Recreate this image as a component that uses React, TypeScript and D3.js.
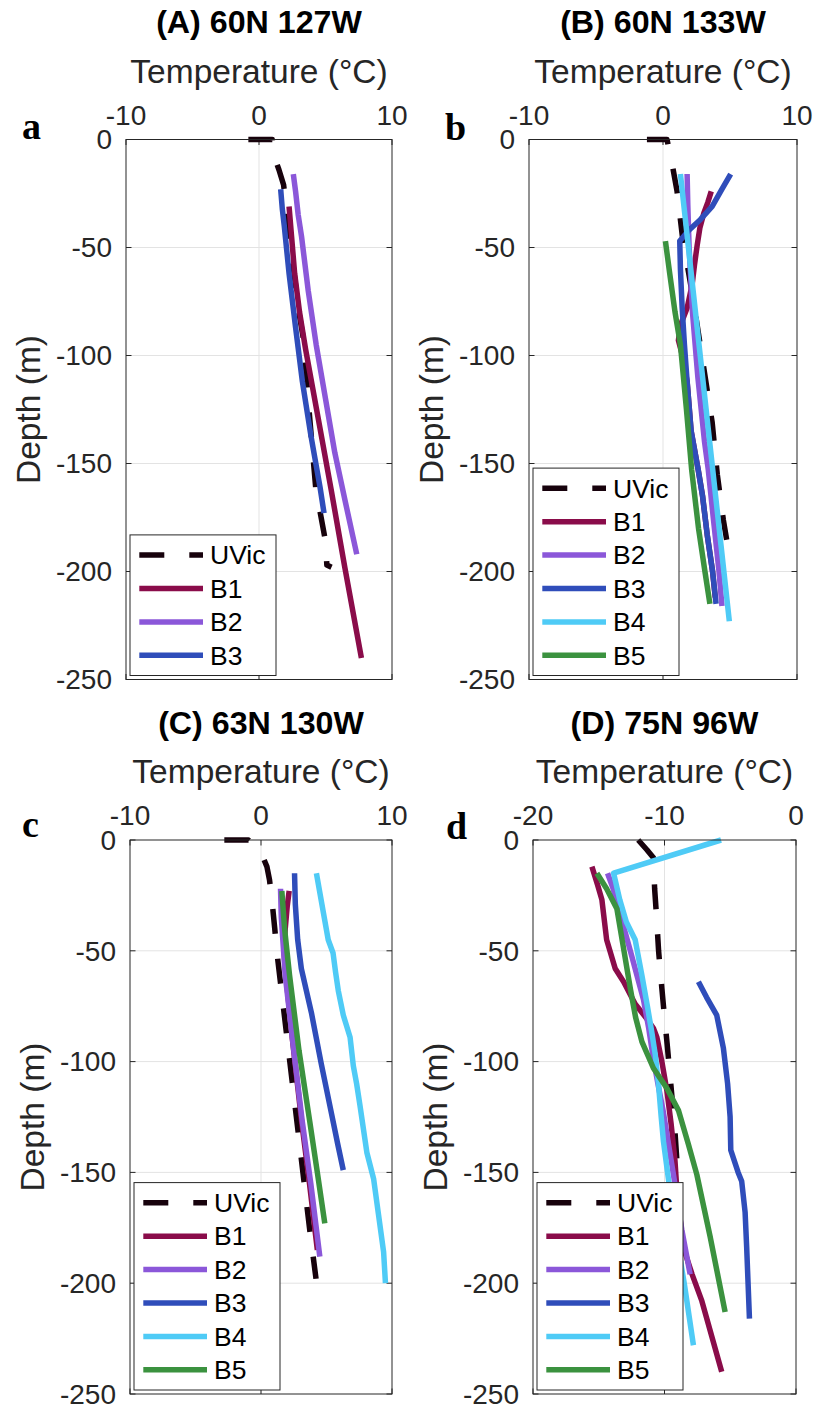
import React from 'react';
import * as d3 from 'd3';

type Pt = [number, number]; // [temperature °C, depth m]

const SERIES_NAMES = ['UVic', 'B1', 'B2', 'B3', 'B4', 'B5'];
const SERIES_COLORS = ['#17020c', '#8a0c4a', '#8b57d9', '#2f4dba', '#4fcbf6', '#3b923f'];

const DEPTH_TICKS = [0, -50, -100, -150, -200, -250];
const TEMP_TICKS_ABC = [-10, 0, 10];
const TEMP_TICKS_D = [-20, -10, 0];

// ---- Panel A: 60N 127W ----
const A_UVIC: Pt[] = [[-0.8, 0], [1.0, 0], [1.15, -8], [1.5, -14], [1.85, -21], [2.2, -40], [2.6, -60], [3.0, -80], [3.33, -92], [3.8, -128], [4.26, -161], [4.64, -174], [5.0, -186], [5.1, -197], [5.45, -198]];
const A_B1: Pt[] = [[2.26, -31], [2.45, -45], [2.68, -62], [3.05, -80], [3.5, -97], [4.45, -129], [5.45, -163], [6.45, -198], [7.7, -240]];
const A_B2: Pt[] = [[2.58, -16], [2.75, -24], [2.95, -35], [3.2, -45], [3.7, -70], [4.3, -95], [5.0, -120], [5.7, -145], [6.5, -168], [7.35, -192]];
const A_B3: Pt[] = [[1.63, -23], [1.75, -32], [1.9, -40], [2.26, -62], [2.75, -87], [3.26, -112], [3.9, -137], [4.59, -161], [4.89, -173]];

// ---- Panel B: 60N 133W ----
const B_UVIC: Pt[] = [[-1.2, 0], [0.3, 0], [0.7, -12], [1.05, -24], [1.45, -45], [2.2, -72], [2.9, -100], [3.67, -131], [4.05, -155], [4.5, -176], [4.85, -189]];
const B_B1: Pt[] = [[3.6, -24], [3.35, -29], [3.05, -34], [2.75, -41], [2.55, -49], [2.35, -58], [2.18, -67], [1.8, -78], [1.3, -86], [1.15, -93], [1.45, -100], [1.8, -112], [2.1, -135], [2.63, -153], [2.95, -165], [3.3, -183], [3.7, -200], [3.9, -212]];
const B_B2: Pt[] = [[1.8, -16], [1.85, -30], [1.95, -50], [2.2, -80], [2.6, -110], [3.1, -140], [3.38, -153], [3.75, -175], [4.18, -200], [4.4, -216]];
const B_B3: Pt[] = [[5.05, -16], [4.4, -23], [3.67, -31], [2.8, -37], [1.93, -42], [1.25, -47], [1.3, -60], [1.43, -78], [1.6, -95], [1.8, -112], [2.1, -135], [2.63, -153], [2.95, -165], [3.3, -183], [3.7, -200], [3.96, -215]];
const B_B4: Pt[] = [[1.3, -16], [2.6, -90], [4.95, -223]];
const B_B5: Pt[] = [[0.18, -47], [0.5, -62], [0.9, -80], [1.3, -95], [1.75, -125], [2.14, -153], [2.65, -180], [3.13, -200], [3.5, -215]];

// ---- Panel C: 63N 130W ----
const C_UVIC: Pt[] = [[-2.8, 0], [-0.95, 0], [-0.35, -3], [0.1, -7], [0.45, -12], [0.65, -18], [0.85, -28], [1.05, -40], [1.2, -50], [1.7, -75], [2.2, -100], [2.7, -125], [3.2, -150], [3.7, -175], [4.2, -198]];
const C_B1: Pt[] = [[2.15, -23], [2.0, -30], [1.85, -40], [1.75, -50], [1.9, -61], [2.4, -90], [3.1, -127], [3.7, -155], [4.3, -185]];
const C_B2: Pt[] = [[1.49, -22], [1.55, -35], [1.85, -61], [2.4, -90], [3.15, -127], [3.8, -155], [4.49, -188]];
const C_B3: Pt[] = [[2.56, -15], [2.62, -29], [2.8, -45], [3.08, -58], [3.85, -78], [4.6, -101], [5.4, -124], [5.85, -137], [6.28, -149]];
const C_B4: Pt[] = [[4.23, -15], [4.5, -24], [4.74, -32], [5.13, -45], [5.5, -51], [5.7, -60], [5.9, -68], [6.28, -79], [6.8, -89], [7.05, -102], [7.3, -110], [7.56, -120], [8.08, -141], [8.6, -153], [8.97, -169], [9.36, -186], [9.5, -200]];
const C_B5: Pt[] = [[1.59, -23], [1.8, -40], [2.18, -61], [2.9, -95], [3.72, -127], [4.3, -150], [4.87, -173]];

// ---- Panel D: 75N 96W ----
const D_UVIC: Pt[] = [[-12, 0], [-11.34, -4.4], [-10.84, -8], [-10.8, -15], [-10.75, -22], [-10.6, -35], [-10.45, -50], [-10.2, -67], [-10.0, -80], [-9.8, -92], [-9.6, -105], [-9.4, -118], [-9.2, -132], [-9.0, -150], [-8.95, -158]];
const D_B1: Pt[] = [[-15.52, -12], [-15.1, -20], [-14.76, -27], [-14.4, -45], [-13.75, -58], [-13.11, -64], [-12.23, -74], [-11.3, -81], [-10.84, -85], [-10.58, -89], [-10.2, -100], [-9.82, -113], [-9.5, -128], [-9.2, -145], [-9.06, -158], [-8.8, -172], [-8.56, -184], [-7.9, -196], [-7.16, -208], [-5.65, -240]];
const D_B2: Pt[] = [[-14.33, -15], [-13.9, -22], [-13.49, -31], [-12.6, -50], [-11.6, -72], [-11.2, -85], [-10.84, -99], [-10.5, -110], [-10.08, -123], [-9.7, -137], [-9.32, -151], [-8.68, -176], [-8.05, -196]];
const D_B3: Pt[] = [[-7.42, -64], [-6.8, -71], [-6.03, -79], [-5.52, -94], [-5.2, -110], [-5.01, -125], [-4.96, -140], [-4.4, -150], [-4.13, -154], [-3.87, -168], [-3.75, -184], [-3.54, -216]];
const D_B4: Pt[] = [[-5.7, 0], [-13.87, -15], [-13.4, -27], [-12.9, -37], [-12.23, -45], [-11.72, -61], [-11.3, -75], [-10.96, -87], [-10.7, -97], [-10.46, -110], [-10.25, -125], [-10.08, -136], [-9.7, -153], [-9.2, -175], [-8.5, -200], [-7.8, -228]];
const D_B5: Pt[] = [[-15.14, -15], [-14.4, -22], [-13.62, -31], [-13.11, -49], [-12.6, -67], [-12.2, -80], [-11.72, -91], [-10.84, -103], [-9.82, -112], [-8.94, -122], [-8.2, -137], [-7.54, -151], [-6.53, -179], [-5.39, -213]];

const PANELS = [
  { letter: 'a', title: '(A) 60N 127W', xDomain: [-10, 10], xTicks: TEMP_TICKS_ABC, series: [A_UVIC, A_B1, A_B2, A_B3], box: { l: 126, r: 392, t: 139.5, b: 679.5 }, letterPos: [22, 139] },
  { letter: 'b', title: '(B) 60N 133W', xDomain: [-10, 10], xTicks: TEMP_TICKS_ABC, series: [B_UVIC, B_B1, B_B2, B_B3, B_B4, B_B5], box: { l: 529, r: 797, t: 139.5, b: 679.5 }, letterPos: [445, 140] },
  { letter: 'c', title: '(C) 63N 130W', xDomain: [-10, 10], xTicks: TEMP_TICKS_ABC, series: [C_UVIC, C_B1, C_B2, C_B3, C_B4, C_B5], box: { l: 130, r: 392, t: 840, b: 1394 }, letterPos: [22, 837] },
  { letter: 'd', title: '(D) 75N 96W', xDomain: [-20, 0], xTicks: TEMP_TICKS_D, series: [D_UVIC, D_B1, D_B2, D_B3, D_B4, D_B5], box: { l: 533, r: 796, t: 840, b: 1394 }, letterPos: [446, 839] },
];

const FONT = '"Liberation Sans", Arial, Helvetica, sans-serif';
const AXIS_COLOR = '#262626';
const GRID_COLOR = '#e3e3e3';
const LINE_W = 5.5;
const DASH = '25 25';

function Panel({ p }: { p: any }) {
  const { l, r, t, b } = p.box;
  const x = d3.scaleLinear().domain(p.xDomain).range([l, r]);
  const y = d3.scaleLinear().domain([0, -250]).range([t, b]);
  const line = d3.line<Pt>().x((d) => x(d[0])).y((d) => y(d[1]));
  const tl = 5.5;
  const cx = (l + r) / 2;
  const cy = (t + b) / 2;

  const n = p.series.length;
  const rowH = 33.4;
  const legW = 146;
  const legH = n * rowH + 7;
  const legL = l + 4;
  const legB = b - 4;
  const legT = legB - legH;

  return (
    <g>
      {p.xTicks.filter((v: number) => x(v) > l + 1 && x(v) < r - 1).map((v: number) => (
        <line key={'gx' + v} x1={x(v)} x2={x(v)} y1={t} y2={b} stroke={GRID_COLOR} strokeWidth={1} />
      ))}
      {DEPTH_TICKS.filter((v) => y(v) > t + 1 && y(v) < b - 1).map((v) => (
        <line key={'gy' + v} x1={l} x2={r} y1={y(v)} y2={y(v)} stroke={GRID_COLOR} strokeWidth={1} />
      ))}
      {p.xTicks.map((v: number) => (
        <g key={'tx' + v}>
          <line x1={x(v)} x2={x(v)} y1={t} y2={t + tl} stroke={AXIS_COLOR} strokeWidth={1} />
          <line x1={x(v)} x2={x(v)} y1={b} y2={b - tl} stroke={AXIS_COLOR} strokeWidth={1} />
          <text x={x(v)} y={t - 15} textAnchor="middle" fontFamily={FONT} fontSize={28} fill={AXIS_COLOR}>{v}</text>
        </g>
      ))}
      {DEPTH_TICKS.map((v) => (
        <g key={'ty' + v}>
          <line x1={l} x2={l + tl} y1={y(v)} y2={y(v)} stroke={AXIS_COLOR} strokeWidth={1} />
          <line x1={r} x2={r - tl} y1={y(v)} y2={y(v)} stroke={AXIS_COLOR} strokeWidth={1} />
          <text x={l - 14} y={y(v)} dy="0.35em" textAnchor="end" fontFamily={FONT} fontSize={28} fill={AXIS_COLOR}>{v}</text>
        </g>
      ))}
      {p.series.map((s: Pt[], i: number) => (
        <path key={'s' + i} d={line(s) || ''} fill="none" stroke={SERIES_COLORS[i]} strokeWidth={LINE_W}
          strokeDasharray={i === 0 ? DASH : undefined} strokeLinejoin="round" strokeLinecap="butt" />
      ))}
      <rect x={l} y={t} width={r - l} height={b - t} fill="none" stroke={AXIS_COLOR} strokeWidth={1} />
      <text x={cx} y={t - 106.5} textAnchor="middle" fontFamily={FONT} fontSize={32.2} fontWeight="bold" fill="#000">{p.title}</text>
      <text x={cx} y={t - 57} textAnchor="middle" fontFamily={FONT} fontSize={33.5} fill={AXIS_COLOR}>Temperature (°C)</text>
      <text transform={`translate(${l - 86},${cy}) rotate(-90)`} textAnchor="middle" fontFamily={FONT} fontSize={33.5} fill={AXIS_COLOR}>Depth (m)</text>
      <text x={p.letterPos[0]} y={p.letterPos[1]} fontFamily={'"Liberation Serif", "Times New Roman", serif'} fontSize={38} fontWeight="bold" fill="#000">{p.letter}</text>
      <rect x={legL} y={legT} width={legW} height={legH} fill="#fff" stroke={AXIS_COLOR} strokeWidth={1} />
      {p.series.map((_s: Pt[], i: number) => {
        const yy = legT + 3.5 + rowH / 2 + i * rowH;
        return (
          <g key={'lg' + i}>
            <line x1={legL + 9.3} x2={legL + 73} y1={yy} y2={yy} stroke={SERIES_COLORS[i]} strokeWidth={LINE_W}
              strokeDasharray={i === 0 ? DASH : undefined} />
            <text x={legL + 80} y={yy} dy="0.35em" fontFamily={FONT} fontSize={26.5} fill="#000">{SERIES_NAMES[i]}</text>
          </g>
        );
      })}
    </g>
  );
}

export default function App() {
  return (
    <svg width={814} height={1412} style={{ position: 'absolute', left: 0, top: 0, background: '#fff' }}>
      <rect x={0} y={0} width={814} height={1412} fill="#fff" />
      {PANELS.map((p) => <Panel key={p.letter} p={p} />)}
    </svg>
  );
}
